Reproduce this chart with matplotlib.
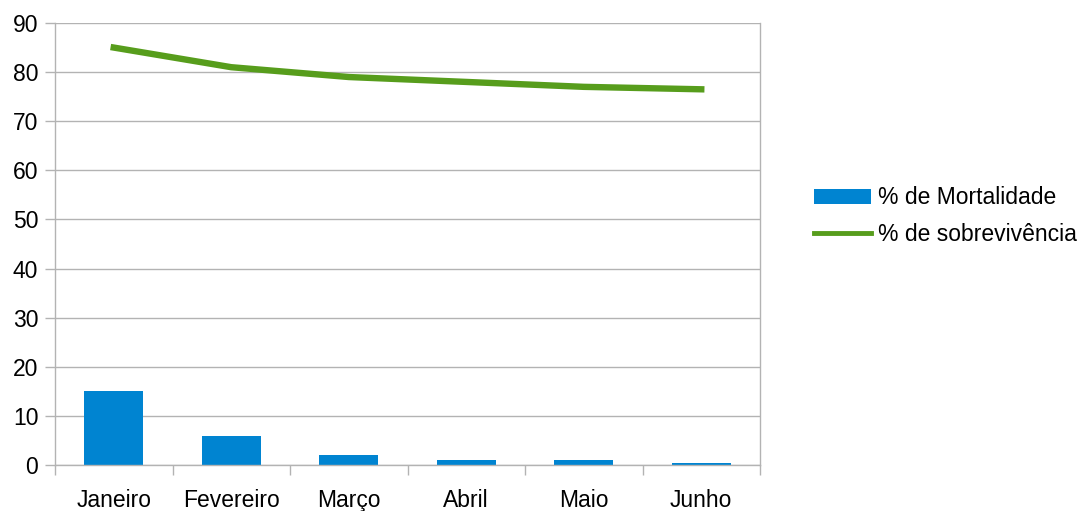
import matplotlib.pyplot as plt
from matplotlib.patches import Patch
from matplotlib.lines import Line2D
import numpy as np

# dados
meses = ['Janeiro', 'Fevereiro', 'Março', 'Abril', 'Maio', 'Junho']
mortalidade = [15, 6, 2, 1, 1, 0.5]
sobrevivencia = [85, 81, 79, 78, 77, 76.5]

azul = '#0084d1'
verde = '#579d1c'
cinza = '#b3b3b3'

plt.rcParams['font.family'] = ['Liberation Sans', 'DejaVu Sans']

fig = plt.figure(figsize=(10.86, 5.11), dpi=100)
ax = fig.add_axes([55/1086, 1 - 465/511, 705/1086, 442/511])

x = np.arange(len(meses))
ax.bar(x, mortalidade, 0.5, color=azul, zorder=2)
ax.plot(x, sobrevivencia, color=verde, linewidth=4.6, zorder=3)

ax.set_xlim(-0.5, len(meses) - 0.5)
ax.set_ylim(0, 90)
ax.set_yticks(range(0, 91, 10))
ax.yaxis.grid(True, color=cinza, linewidth=1)
ax.set_axisbelow(True)

# rótulos no centro, marcas entre as categorias
ax.set_xticks(x)
ax.set_xticklabels(meses)
ax.set_xticks(np.arange(-0.5, len(meses)), minor=True)
ax.tick_params(axis='x', which='major', length=0, pad=17.5, labelsize=16.5)
ax.tick_params(axis='x', which='minor', length=7, color=cinza, width=1)
ax.tick_params(axis='y', length=7, color=cinza, width=1, labelsize=16.5, pad=5)

for s in ['left', 'right', 'bottom', 'top']:
    ax.spines[s].set_color(cinza)
    ax.spines[s].set_linewidth(1)
ax.spines['top'].set_visible(False)

handles = [Patch(facecolor=azul, edgecolor='none'),
           Line2D([0], [0], color=verde, linewidth=3.5)]
fig.legend(handles, ['% de Mortalidade', '% de sobrevivência'],
           loc='center left', bbox_to_anchor=(814/1086, 1 - 216/511),
           frameon=False, fontsize=16.5, handlelength=2.5, handleheight=0.63,
           handletextpad=0.28, labelspacing=0.6, borderpad=0, borderaxespad=0)

fig.savefig('out.png', dpi=100)
